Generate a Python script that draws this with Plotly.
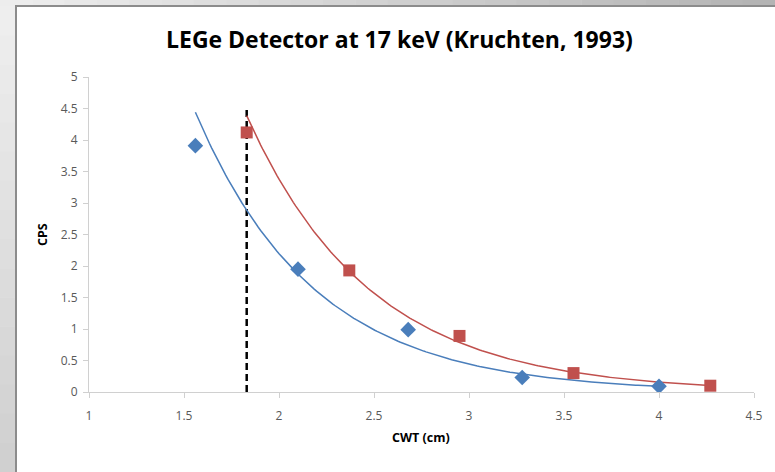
import numpy as np
import plotly.graph_objects as go

# Data
blue_x = [1.56, 2.10, 2.68, 3.28, 4.00]
blue_y = [3.91, 1.95, 0.99, 0.23, 0.09]
red_x = [1.83, 2.37, 2.95, 3.55, 4.27]
red_y = [4.12, 1.93, 0.89, 0.30, 0.10]
vline_x = 1.83
vline_top = 4.5

x_ticks = [1, 1.5, 2, 2.5, 3, 3.5, 4, 4.5]
y_ticks = [0, 0.5, 1, 1.5, 2, 2.5, 3, 3.5, 4, 4.5, 5]

title = "LEGe Detector at 17 keV (Kruchten, 1993)"
x_title = "CWT (cm)"
y_title = "CPS"

BLUE = "#4a7ebb"
RED = "#c0504d"
FONT = "Open Sans"


def exp_fit(xs, ys, n=200):
    xs = np.asarray(xs, float)
    ys = np.asarray(ys, float)
    b, ln_a = np.polyfit(xs, np.log(ys), 1)
    xx = np.linspace(xs.min(), xs.max(), n)
    return xx, np.exp(ln_a) * np.exp(b * xx)


W, H = 775, 472
L, R, T, B = 89, 21, 77, 80
PW, PH = W - L - R, H - T - B


def px(x):
    return (x - L) / PW


def py(y):
    return (H - B - y) / PH


def grey(v):
    v = int(round(v))
    return f"rgb({v},{v},{v})"


fig = go.Figure()

bfx, bfy = exp_fit(blue_x, blue_y)
rfx, rfy = exp_fit(red_x, red_y)

fig.add_trace(go.Scatter(x=[vline_x, vline_x], y=[0, vline_top], mode="lines",
                         line=dict(color="black", width=2.5, dash="7px,4px"),
                         showlegend=False, hoverinfo="skip"))
fig.add_trace(go.Scatter(x=bfx, y=bfy, mode="lines",
                         line=dict(color=BLUE, width=1.5), showlegend=False))
fig.add_trace(go.Scatter(x=rfx, y=rfy, mode="lines",
                         line=dict(color=RED, width=1.5), showlegend=False))
fig.add_trace(go.Scatter(x=blue_x, y=blue_y, mode="markers",
                         marker=dict(symbol="diamond", size=12, color=BLUE),
                         showlegend=False))
fig.add_trace(go.Scatter(x=red_x, y=red_y, mode="markers",
                         marker=dict(symbol="square", size=12, color=RED),
                         showlegend=False))

shapes = []
# decorative frame: top strip gradient (light -> darker to the right)
n = 24
seg = W / n
for i in range(n):
    v = 237 - (237 - 180) * i / (n - 1)
    shapes.append(dict(type="rect", xref="paper", yref="paper", layer="below",
                       x0=px(i * seg), x1=px((i + 1) * seg + 0.5), y0=py(0), y1=py(6),
                       fillcolor=grey(v), line=dict(width=0)))
# left strip gradient (light -> darker downward)
n = 16
seg = (H - 6) / n
for i in range(n):
    v = 238 - (238 - 208) * i / (n - 1)
    shapes.append(dict(type="rect", xref="paper", yref="paper", layer="below",
                       x0=px(0), x1=px(15), y0=py(6 + i * seg), y1=py(6 + (i + 1) * seg + 0.5),
                       fillcolor=grey(v), line=dict(width=0)))
shapes.append(dict(type="rect", xref="paper", yref="paper", layer="below",
                   x0=px(15), x1=px(W), y0=py(5), y1=py(7),
                   fillcolor="#8c8c8c", line=dict(width=0)))
shapes.append(dict(type="rect", xref="paper", yref="paper", layer="below",
                   x0=px(15), x1=px(17), y0=py(5), y1=py(H),
                   fillcolor="#8c8c8c", line=dict(width=0)))

annotations = [
    dict(text="<b>" + title + "</b>", xref="paper", yref="paper",
         x=px(399), y=py(39), showarrow=False, xanchor="center", yanchor="middle",
         font=dict(family=FONT, size=23, color="black")),
    dict(text="<b>" + x_title + "</b>", xref="paper", yref="paper",
         x=px(421), y=py(437), showarrow=False, xanchor="center", yanchor="middle",
         font=dict(family=FONT, size=12.5, color="black")),
    dict(text="<b>" + y_title + "</b>", xref="paper", yref="paper",
         x=px(42), y=py(235), showarrow=False, xanchor="center", yanchor="middle",
         textangle=-90, font=dict(family=FONT, size=12.5, color="black")),
]

fig.update_layout(
    width=W, height=H,
    margin=dict(l=L, r=R, t=T, b=B, pad=0),
    paper_bgcolor="white", plot_bgcolor="white",
    shapes=shapes, annotations=annotations,
    showlegend=False,
    xaxis=dict(range=[1, 4.5], tickvals=x_ticks, ticktext=[f"{v:g}" for v in x_ticks],
               showgrid=False, zeroline=False, showline=True, linecolor="#d0d0d0",
               linewidth=1, ticks="outside", ticklen=5, tickcolor="#d0d0d0",
               ticklabelstandoff=8,
               tickfont=dict(family=FONT, size=12, color="#595959")),
    yaxis=dict(range=[0, 5], tickvals=y_ticks, ticktext=[f"{v:g}" for v in y_ticks],
               showgrid=False, zeroline=False, showline=True, linecolor="#d0d0d0",
               linewidth=1, ticks="outside", ticklen=5, tickcolor="#d0d0d0",
               ticklabelstandoff=3,
               tickfont=dict(family=FONT, size=12, color="#595959")),
)

fig.write_html("out.html", config={"displayModeBar": False},
               post_script="document.body.style.margin='0';")
